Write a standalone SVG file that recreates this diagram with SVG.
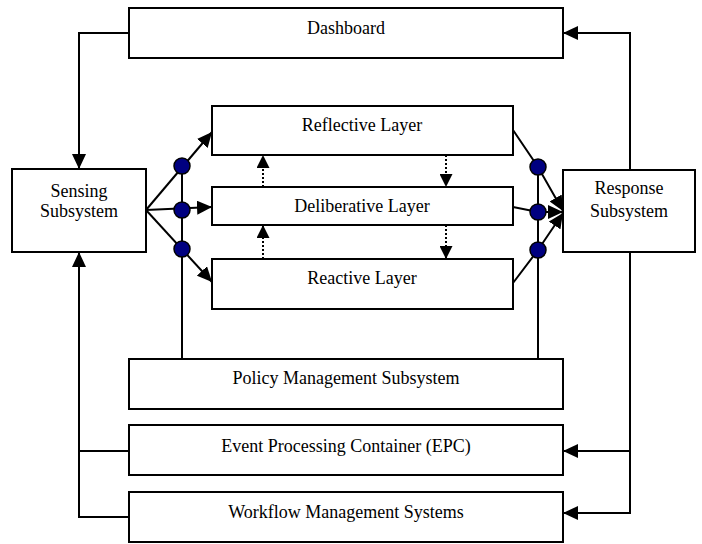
<svg xmlns="http://www.w3.org/2000/svg" width="702" height="544" viewBox="0 0 702 544">
<defs>
<style>
.box{fill:#fff;stroke:#000;stroke-width:2}
.ln{fill:none;stroke:#000;stroke-width:2}
.dot{fill:none;stroke:#000;stroke-width:2;stroke-dasharray:2 2}
.jn{fill:#000080;stroke:#000;stroke-width:1.5}
text{font-family:"Liberation Serif","Times New Roman",serif;font-size:18px;fill:#000;text-anchor:middle}
</style>
<marker id="ah" markerUnits="userSpaceOnUse" markerWidth="16" markerHeight="14" refX="15" refY="7" orient="auto">
<path d="M0,0 L15,7 L0,14 z" fill="#000"/>
</marker>
<marker id="ahs" markerUnits="userSpaceOnUse" markerWidth="14" markerHeight="13" refX="13" refY="6.5" orient="auto">
<path d="M0,0 L13,6.5 L0,13 z" fill="#000"/>
</marker>
</defs>
<g id="connectors">
<path class="ln" d="M129,33 H79 V169" marker-end="url(#ah)"/>
<path class="ln" d="M630,170 V33 H563" marker-end="url(#ah)"/>
<path class="ln" d="M129,517 H79 V252" marker-end="url(#ah)"/>
<path class="ln" d="M129,451 H79"/>
<path class="ln" d="M630,252 V513 H563" marker-end="url(#ah)"/>
<path class="ln" d="M630,451 H563" marker-end="url(#ah)"/>
<path class="ln" d="M146,210 L212,132" marker-end="url(#ah)"/>
<path class="ln" d="M146,210 L212,207" marker-end="url(#ah)"/>
<path class="ln" d="M146,210 L212,282" marker-end="url(#ah)"/>
<path class="ln" d="M182,166 V359"/>
<path class="ln" d="M538,167 V359"/>
<path class="ln" d="M513,130 L538,167 L563,211" marker-end="url(#ah)"/>
<path class="ln" d="M513,207 L538,212 L563,212" marker-end="url(#ah)"/>
<path class="ln" d="M513,283 L538,250 L563,213" marker-end="url(#ah)"/>
<path class="dot" d="M263,187 V155" marker-end="url(#ahs)"/>
<path class="dot" d="M263,259 V225" marker-end="url(#ahs)"/>
<path class="dot" d="M446,155 V187" marker-end="url(#ahs)"/>
<path class="dot" d="M446,225 V259" marker-end="url(#ahs)"/>
<circle class="jn" cx="182" cy="166" r="8"/>
<circle class="jn" cx="182" cy="210" r="8"/>
<circle class="jn" cx="182" cy="249" r="8"/>
<circle class="jn" cx="538" cy="167" r="8"/>
<circle class="jn" cx="538" cy="212" r="8"/>
<circle class="jn" cx="538" cy="250" r="8"/>
</g>
<g id="dashboard"><rect class="box" x="129" y="8" width="434" height="50"/><text x="346" y="34">Dashboard</text></g>
<g id="sensing"><rect class="box" x="12" y="169" width="134" height="83"/><text x="79" y="197">Sensing</text><text x="79" y="217">Subsystem</text></g>
<g id="response"><rect class="box" x="563" y="170" width="132" height="82"/><text x="629" y="194">Response</text><text x="629" y="217">Subsystem</text></g>
<g id="reflective"><rect class="box" x="212" y="106" width="301" height="49"/><text x="362" y="131">Reflective Layer</text></g>
<g id="deliberative"><rect class="box" x="212" y="187" width="301" height="38"/><text x="362" y="212">Deliberative Layer</text></g>
<g id="reactive"><rect class="box" x="212" y="259" width="301" height="50"/><text x="362" y="284">Reactive Layer</text></g>
<g id="policy"><rect class="box" x="129" y="359" width="434" height="50"/><text x="346" y="384">Policy Management Subsystem</text></g>
<g id="epc"><rect class="box" x="129" y="425" width="434" height="50"/><text x="346" y="452">Event Processing Container (EPC)</text></g>
<g id="workflow"><rect class="box" x="129" y="492" width="434" height="50"/><text x="346" y="518">Workflow Management Systems</text></g>
</svg>
